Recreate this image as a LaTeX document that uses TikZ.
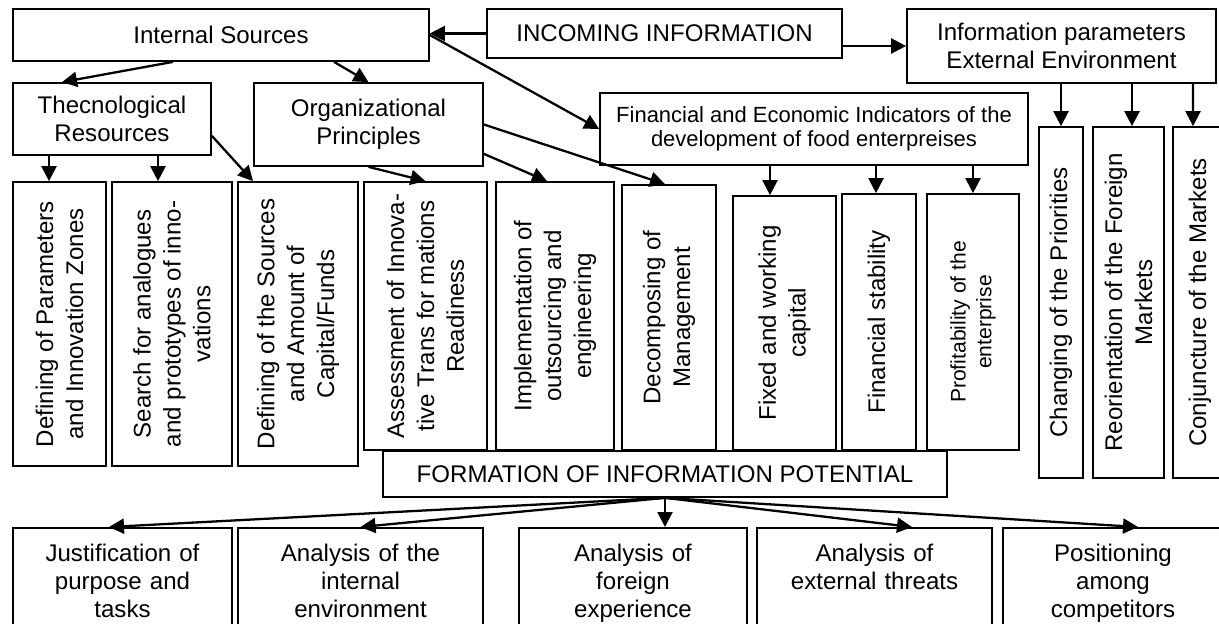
\documentclass[tikz,border=0pt]{standalone}
\usepackage{fontspec}
\setmainfont{Liberation Sans}
\usepackage{tikz}
\usetikzlibrary{arrows.meta}
\usetikzlibrary{positioning}
\usetikzlibrary{calc}
\tikzstyle{block}=[draw,rectangle,line width=1pt,inner sep=0pt,align=center,font=\fontsize{13.7}{15.9}\selectfont]
\tikzstyle{vblock}=[block,rotate=90,font=\fontsize{13.7}{17}\selectfont]
\tikzstyle{lowbox}=[block,anchor=north,minimum height=2.12cm,text width=4cm,text height=0.45cm,text depth=1.22cm]
\tikzstyle{arr}=[line width=1.3pt,-{Triangle[length=0.3cm,width=0.3cm]}]

\begin{document}
\begin{tikzpicture}[x=0.02cm,y=-0.02cm]
\useasboundingbox (0,0) rectangle (1219,624);
\clip (0,0) rectangle (1219,624);
\node [block,minimum width=8.32cm,minimum height=1.04cm] (insrc) at (221,35) {Internal Sources};
\node [block,minimum width=7.10cm,minimum height=0.98cm] (incoming) at (664.5,33.5) {INCOMING INFORMATION};
\node [block,minimum width=6.18cm,minimum height=1.48cm] (extpar) at (1061.5,46) {Information parameters\\External Environment};
\node [block,minimum width=3.96cm,minimum height=1.44cm] (techres) at (112,119) {Thecnological\\Resources};
\node [block,minimum width=4.58cm,minimum height=1.66cm] (orgpr) at (368.5,124.5) {Organizational\\Principles};
\node [block,minimum width=8.56cm,minimum height=1.44cm,font=\fontsize{12.5}{13.7}\selectfont] (finind) at (814,129)
	{Financial and Economic Indicators of the\\development of food enterpreises};

\node [vblock,minimum width=5.68cm,minimum height=1.86cm] (defpar) at (59.5,324) {Defining of Parameters\\and Innovation Zones};
\node [vblock,minimum width=5.68cm,minimum height=2.40cm] (search) at (172,324) {Search for analogues\\and prototypes of inno-\\vations};
\node [vblock,minimum width=5.68cm,minimum height=2.40cm] (defsrc) at (298,324) {Defining of the Sources\\and Amount of\\Capital/Funds};
\node [vblock,minimum width=5.36cm,minimum height=2.46cm] (assess) at (425.5,316) {Assessment of Innova-\\tive Trans for mations\\Readiness};
\node [vblock,minimum width=5.36cm,minimum height=2.36cm] (implem) at (555,316) {Implementation of\\outsourcing and\\engineering};
\node [vblock,minimum width=5.30cm,minimum height=1.88cm] (decomp) at (669,317.5) {Decomposing of\\Management};
\node [vblock,minimum width=5.08cm,minimum height=2.06cm] (fixed) at (784.5,323) {Fixed and working\\capital};
\node [vblock,minimum width=5.12cm,minimum height=1.48cm] (finstab) at (879,322) {Financial stability};
\node [vblock,minimum width=5.12cm,minimum height=1.84cm,font=\fontsize{12}{14.7}\selectfont] (profit) at (973,322) {Profitability of the\\enterprise};
\node [vblock,minimum width=7.02cm,minimum height=0.88cm] (chpri) at (1061,302.5) {Changing of the Priorities};
\node [vblock,minimum width=7.02cm,minimum height=1.42cm] (reor) at (1128.5,302.5) {Reorientation of the Foreign\\Markets};
\node [vblock,minimum width=7.02cm,minimum height=1.08cm] (conj) at (1200,302.5) {Conjuncture of the Markets};

\node [block,minimum width=11.28cm,minimum height=0.92cm] (formation) at (665,474) {FORMATION OF INFORMATION POTENTIAL};

\node [lowbox,minimum width=4.38cm] (justif) at (122.5,527) {Justification of\\purpose and\\tasks};
\node [lowbox,minimum width=4.90cm] (anint) at (360.5,527) {Analysis of the\\internal\\environment};
\node [lowbox,minimum width=4.56cm] (anfor) at (633,527) {Analysis of\\foreign\\experience};
\node [lowbox,minimum width=4.70cm] (anthr) at (874.5,527) {Analysis of\\external threats};
\node [lowbox,minimum width=4.40cm] (anpos) at (1113,527) {Positioning\\among\\competitors};

\draw [arr] (incoming.west) -- (incoming.west -| insrc.east);
\draw [arr] (incoming.east |- extpar.west) -- (extpar.west);
\draw [arr] ($(insrc.south)+(-48,0)$) -- ($(techres.north)+(-50,0)$);
\draw [arr] ($(insrc.south)+(113,0)$) -- (orgpr.north);
\draw [arr] (insrc.east) -- (finind.west);

\draw [arr] ($(techres.south)+(-63,0)$) -- ($(defpar.east)+(-10.5,0)$);
\draw [arr] ($(techres.south)+(46,0)$) -- ($(search.east)+(-14,0)$);
\draw [arr] ($(techres.south east)+(0,-20)$) -- ($(defsrc.east)+(-45,0)$);
\draw [arr] (orgpr.south) -- (assess.east);
\draw [arr] ($(orgpr.south east)+(0,-13)$) -- ($(implem.east)+(-8,0)$);
\draw [arr] (orgpr.east) -- ($(decomp.east)+(-4,0)$);
\draw [arr] ($(finind.south)+(-44,0)$) -- ($(fixed.east)+(-14.5,0)$);
\draw [arr] ($(finind.south)+(62,0)$) -- ($(finstab.east)+(-3,0)$);
\draw [arr] ($(finind.south)+(159,0)$) -- (profit.east);
\draw [arr] (extpar.south -| chpri.east) -- (chpri.east);
\draw [arr] ($(extpar.south)+(70.5,0)$) -- ($(reor.east)+(3.5,0)$);
\draw [arr] ($(extpar.south)+(131.5,0)$) -- ($(conj.east)+(-7,0)$);

\draw [arr] (formation.south) -- ($(justif.north)+(-13.5,0)$);
\draw [arr] (formation.south) -- (anint.north);
\draw [arr] (formation.south) -- (formation.south |- anfor.north);
\draw [arr] (formation.south) -- ($(anthr.north)+(37.5,0)$);
\draw [arr] (formation.south) -- ($(anpos.north)+(25,0)$);
\end{tikzpicture}
\end{document}
